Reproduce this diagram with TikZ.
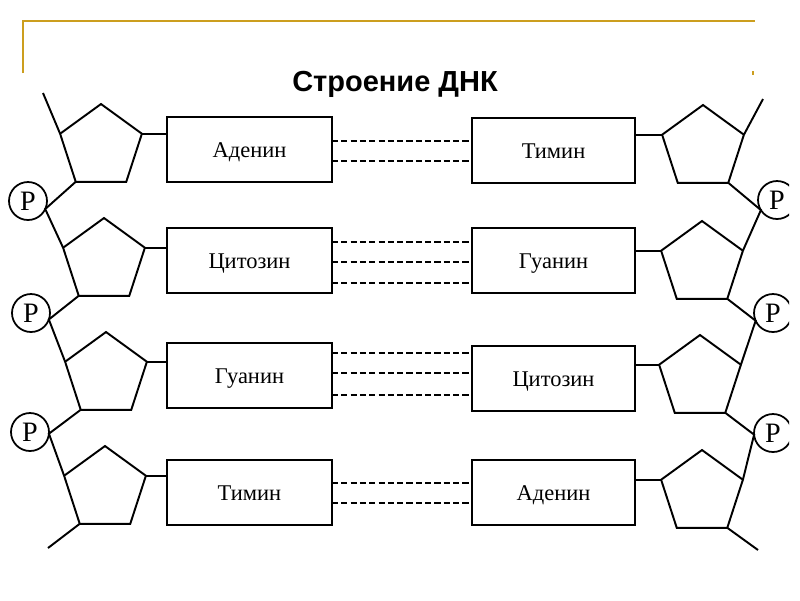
\documentclass[tikz,border=0pt]{standalone}
\usepackage{fontspec}
\setmainfont{Liberation Serif}
\newfontfamily\titlefont{Liberation Sans}
\usetikzlibrary{shapes.geometric,calc}
\definecolor{gold}{RGB}{204,158,30}
\begin{document}
\begin{tikzpicture}[x=0.02cm,y=-0.02cm,
 pent/.style={regular polygon, regular polygon sides=5, minimum size=1.72cm, inner sep=0pt, outer sep=0pt, draw, line width=1.1pt},
 base/.style={draw, line width=1pt, minimum width=3.3cm, minimum height=1.3cm, inner sep=0pt, outer sep=0pt, text height=9pt, text depth=0pt, font=\fontsize{12.8}{14}\selectfont},
 phos/.style={circle, draw, line width=1pt, minimum size=0.76cm, inner sep=0pt, outer sep=0pt, font=\fontsize{16}{18}\selectfont},
 bond/.style={line width=1.1pt, dash pattern=on 3.5pt off 1.8pt},
 strand/.style={line width=1.1pt},
 link/.style={line width=1pt}
]
\useasboundingbox (0,0) rectangle (800,600);
\fill[white] (0,0) rectangle (800,600);
% frame
\draw[gold, line width=1.4pt] (23,73) -- (23,21) -- (755,21);
\draw[gold, line width=1pt] (753,71) -- (753,75);
% title
\node[font=\titlefont\bfseries\fontsize{16.5}{19}\selectfont] (title) at (395,84) {Строение ДНК};
% sugars
\node[pent] (L1) at (101,147) {};
\node[pent] (L2) at (104,261) {};
\node[pent] (L3) at (106,375) {};
\node[pent] (L4) at (105,489) {};
\node[pent] (R1) at (703,148) {};
\node[pent] (R2) at (702,264) {};
\node[pent] (R3) at (700,378) {};
\node[pent] (R4) at (702,493) {};
% bases
\node[base] (BL1) at (249.5,149.5) {Аденин};
\node[base] (BL2) at (249.5,260.5) {Цитозин};
\node[base] (BL3) at (249.5,375.5) {Гуанин};
\node[base] (BL4) at (249.5,492.5) {Тимин};
\node[base, minimum width=3.26cm] (BR1) at (553.5,150.5) {Тимин};
\node[base, minimum width=3.26cm] (BR2) at (553.5,260.5) {Гуанин};
\node[base, minimum width=3.26cm] (BR3) at (553.5,378.5) {Цитозин};
\node[base, minimum width=3.26cm] (BR4) at (553.5,492.5) {Аденин};
% phosphates
\node[phos] (PL1) at (28,201) {P};
\node[phos] (PL2) at (31,313) {P};
\node[phos] (PL3) at (30,432) {P};
\begin{scope}
\clip (700,0) rectangle (789,600);
\node[phos] (PR1) at (777,200) {P};
\node[phos] (PR2) at (773,313) {P};
\node[phos] (PR3) at (773,433) {P};
\end{scope}
% left backbone
\coordinate (LT) at (43,93);
\coordinate (LB) at (48,548);
\draw[strand] (LT) -- (L1.corner 2);
\draw[strand] (L1.corner 3) -- (PL1.-25) -- (L2.corner 2);
\draw[strand] (L2.corner 3) -- (PL2.-20) -- (L3.corner 2);
\draw[strand] (L3.corner 3) -- (PL3.-5) -- (L4.corner 2);
\draw[strand] (L4.corner 3) -- (LB);
% right backbone
\coordinate (RT) at (763,99);
\coordinate (RB) at (758,550);
\draw[strand] (RT) -- (R1.corner 5);
\draw[strand] (R1.corner 4) -- (PR1.212) -- (R2.corner 5);
\draw[strand] (R2.corner 4) -- (PR2.204) -- (R3.corner 5);
\draw[strand] (R3.corner 4) -- (PR3.185) -- (R4.corner 5);
\draw[strand] (R4.corner 4) -- (RB);
% sugar-base links
\foreach \i in {1,2,3,4}{
  \draw[link] (L\i.corner 5) -- (L\i.corner 5 -| BL\i.west);
  \draw[link] (R\i.corner 2) -- (R\i.corner 2 -| BR\i.east);
}
% hydrogen bonds
\foreach \r/\yy in {1/141,1/161,2/242,2/262,2/283,3/353,3/373,3/395,4/483,4/503}{
  \draw[bond] (BL\r.east |- 0,\yy) -- (BR\r.west |- 0,\yy);
}
\end{tikzpicture}
\end{document}
